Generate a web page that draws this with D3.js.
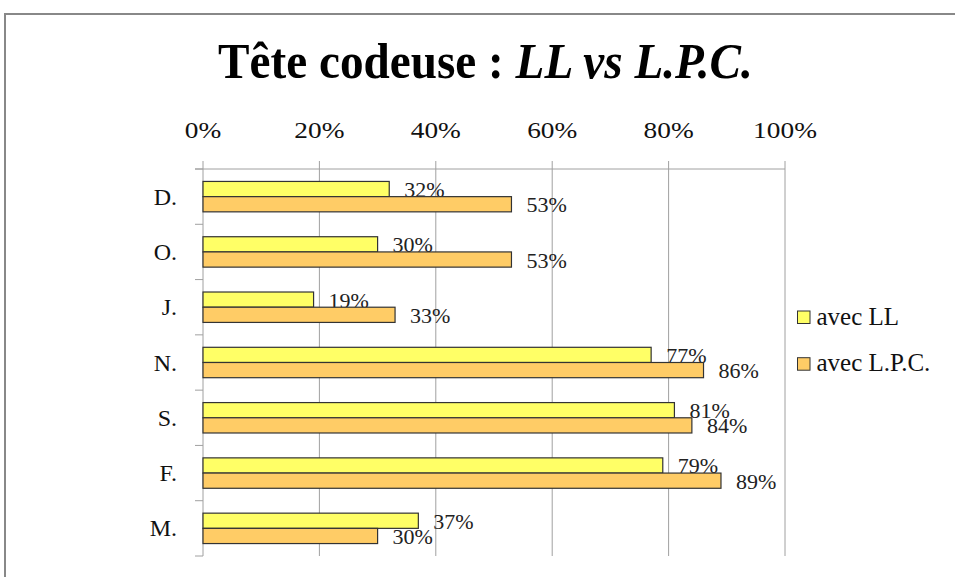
<!DOCTYPE html>
<html>
<head>
<meta charset="utf-8">
<script src="https://cdn.jsdelivr.net/npm/d3@7"></script>
<style>
  body { margin: 0; background: #fff; }
  svg { display: block; font-family: "Liberation Serif", "Times New Roman", serif; }
</style>
</head>
<body>
<svg id="chart" width="955" height="577"></svg>
<script>
const categories = ['D.', 'O.', 'J.', 'N.', 'S.', 'F.', 'M.'];
const avecLL = [32, 30, 19, 77, 81, 79, 37];
const avecLPC = [53, 53, 33, 86, 84, 89, 30];
const seriesNames = ['avec LL', 'avec L.P.C.'];
const seriesColors = ['#ffff66', '#ffcc66'];
const xTicks = [0, 20, 40, 60, 80, 100];

const svg = d3.select('#chart');
const plotLeft = 203, plotRight = 785, plotTop = 169, plotBottom = 556;
const gridColor = '#a0a0a0';

// outer frame (only top and left edges visible)
svg.append('rect')
	.attr('x', 5).attr('y', 14)
	.attr('width', 1200).attr('height', 1200)
	.attr('fill', 'none')
	.attr('stroke', '#888')
	.attr('stroke-width', 2);

// title, slightly condensed
const title = svg.append('text')
	.attr('x', 485.5).attr('y', 78.5)
	.attr('text-anchor', 'middle')
	.attr('font-size', 50)
	.attr('font-weight', 'bold');
title.append('tspan').text('Tête codeuse : ');
title.append('tspan').attr('font-style', 'italic').text('LL vs L.P.C.');
const tw = title.node().getComputedTextLength();
title.attr('transform', `translate(485.5,0) scale(${535 / tw},1) translate(-485.5,0)`);

const x = d3.scaleLinear().domain([0, 100]).range([plotLeft, plotRight]);
const y = d3.scaleBand().domain(categories).range([plotTop, plotBottom])
	.paddingInner(0.45).paddingOuter(0.225);
const ySub = d3.scaleBand().domain(seriesNames).range([0, y.bandwidth()]);

// vertical gridlines + top ticks
svg.append('g').selectAll('line').data(xTicks).join('line')
	.attr('x1', d => x(d)).attr('x2', d => x(d))
	.attr('y1', plotTop - 8).attr('y2', plotBottom)
	.attr('stroke', gridColor).attr('stroke-width', 1);

// top axis line
svg.append('line')
	.attr('x1', plotLeft - 8).attr('x2', plotRight)
	.attr('y1', plotTop).attr('y2', plotTop)
	.attr('stroke', gridColor);

// left category ticks on band boundaries
const bounds = categories.map(c => y(c) - y.step() * y.paddingInner() / 2);
bounds.push(plotBottom);
svg.append('g').selectAll('line').data(bounds).join('line')
	.attr('x1', plotLeft - 8).attr('x2', plotLeft)
	.attr('y1', d => d).attr('y2', d => d)
	.attr('stroke', gridColor);

// tick labels (wide)
svg.append('g').selectAll('text').data(xTicks).join('text')
	.attr('transform', d => `translate(${x(d)},137.5) scale(1.19,1)`)
	.attr('text-anchor', 'middle')
	.attr('font-size', 23)
	.attr('fill', '#111')
	.text(d => d + '%');

// category labels
svg.append('g').selectAll('text').data(categories).join('text')
	.attr('x', 177)
	.attr('y', d => y(d) + y.bandwidth() / 2 + 8)
	.attr('text-anchor', 'end')
	.attr('font-size', 24)
	.attr('fill', '#111')
	.text(d => d);

const rows = categories.map((c, i) => ({ c, v: [avecLL[i], avecLPC[i]] }));

// each series: bars then labels, so yellow labels sit under orange bars
seriesNames.forEach((s, si) => {
	const g = svg.append('g');
	g.selectAll('rect').data(rows).join('rect')
		.attr('x', plotLeft)
		.attr('y', d => y(d.c) + ySub(s))
		.attr('width', d => x(d.v[si]) - plotLeft)
		.attr('height', ySub.bandwidth())
		.attr('fill', seriesColors[si])
		.attr('stroke', '#333')
		.attr('stroke-width', 1.2);
	g.selectAll('text').data(rows).join('text')
		.attr('x', d => x(d.v[si]) + 15)
		.attr('y', d => y(d.c) + ySub(s) + ySub.bandwidth() / 2 + 8)
		.attr('font-size', 22)
		.attr('fill', '#222')
		.text(d => d.v[si] + '%');
});

// legend
const legend = svg.append('g');
seriesNames.forEach((s, i) => {
	const ly = 324.5 + i * 46.7;
	legend.append('rect')
		.attr('x', 797.5).attr('y', ly - 13.5)
		.attr('width', 12.5).attr('height', 12.5)
		.attr('fill', seriesColors[i])
		.attr('stroke', '#333');
	legend.append('text')
		.attr('x', 816.5).attr('y', ly)
		.attr('font-size', 25)
		.attr('fill', '#111')
		.text(s);
});
</script>
</body>
</html>
